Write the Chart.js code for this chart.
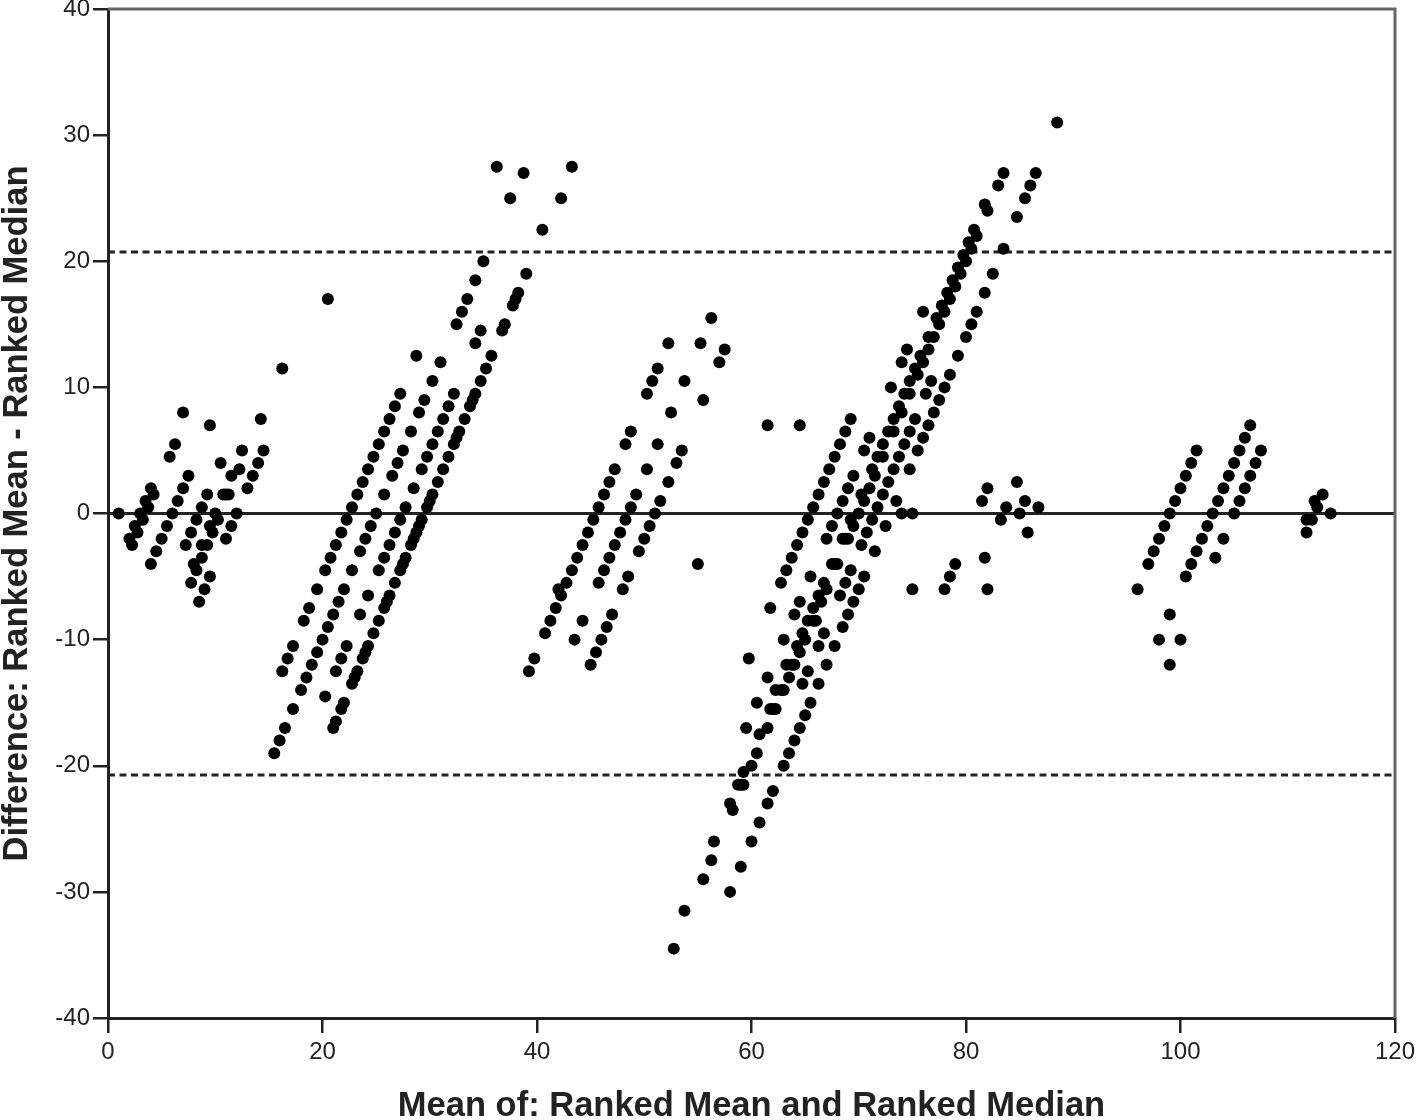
<!DOCTYPE html>
<html>
<head>
<meta charset="utf-8">
<style>
  html, body { margin: 0; padding: 0; background: #fff; }
  #wrap { width: 1416px; height: 1120px; }
</style>
<script src="https://cdn.jsdelivr.net/npm/chart.js@4"></script>
</head>
<body>
<div id="wrap"><canvas id="blandAltman" width="1416" height="1120"></canvas></div>
<script>
// [mean, difference], one list per cluster
const clusterLow = [[1,0],[4,2],[4.25,1.5],[3.5,1],[3.75,.5],[3,0],[3.25,-.5],[2.5,-1],[2.75,-1.5],[2,-2],[2.25,-2.5],
  [4,-4],[4.5,-3],[5,-2],[5.5,-1],[6,0],[6.5,1],[7,2],[7.5,3],[5.75,4.5],[6.25,5.5],[7,8],[9.5,7],[10.5,4],
  [9.25,1.5],[8.75,.5],[8.25,-.5],[7.75,-1.5],[7.25,-2.5],[10,0],[10.25,-.5],[9.5,-1],[9.75,-1.5],[9.25,-2.5],[8.75,-2.5],
  [8.75,-3.5],[8,-4],[8.25,-4.5],[9.5,-5],[9,-6],[8.5,-7],[7.75,-5.5],[10.75,1.5],[11,1.5],[11.25,1.5],[11.5,3],[12.25,3.5],[12.5,5],
  [12,0],[11.5,-1],[11,-2],[13,2],[13.5,3],[14,4],[14.5,5],[14.25,7.5],[16.25,11.5]];

const clusterSecondLower = [[15.5,-19],[16,-18],[16.5,-17],[17.25,-15.5],[16.25,-12.5],[16.75,-11.5],[17.25,-10.5],
  [18.25,-8.5],[18.75,-7.5],[19.5,-6],[20.25,-4.5],[20.75,-3.5],[21.25,-2.5],[21.75,-1.5],[22.25,-.5],
  [18,-14],[18.5,-13],[19,-12],[19.5,-11],[20,-10],[20.5,-9],[21,-8],[21.5,-7],[22,-6],[22.75,-4.5],[23.5,-3],[24,-2],[24.5,-1],[25,0],
  [20.25,-14.5],[21,-17],[21.25,-16.5],[21.75,-15.5],[22,-15],[21.25,-12.5],[21.75,-11.5],[22.25,-10.5],[23.5,-8],[24.25,-6.5],
  [25.25,-4.5],[25.75,-3.5],[26.25,-2.5],[26.75,-1.5],[27.25,-.5],
  [22.75,-13.5],[23,-13],[23.25,-12.5],[23.75,-11.5],[24,-11],[24.25,-10.5],[24.75,-9.5],[25.25,-8.5],[25.75,-7.5],[26,-7],[26.25,-6.5],
  [26.75,-5.5],[27.25,-4.5],[27.5,-4],[27.75,-3.5],[28.25,-2.5],[28.5,-2],[28.75,-1.5],[29,-1],[29.25,-.5]];

const clusterSecondUpper = [[20.5,17],[22.75,.5],[23.25,1.5],[23.75,2.5],[24.25,3.5],[24.75,4.5],[25.25,5.5],[25.75,6.5],[26.25,7.5],[26.75,8.5],[27.25,9.5],
  [25.75,1.5],[26.5,3],[27,4],[27.5,5],[28.25,6.5],[29,8],[29.5,9],[30.25,10.5],[31,12],[28.75,12.5],
  [27.75,.5],[28.5,2],[29.25,3.5],[29.75,4.5],[30.25,5.5],[30.75,6.5],[31.25,7.5],[31.75,8.5],[32.25,9.5],
  [29.75,.5],[30,1],[30.25,1.5],[30.75,2.5],[31.25,3.5],[31.75,4.5],[32.25,5.5],[32.5,6],[32.75,6.5],[33.25,7.5],[33.75,8.5],[34,9],[34.25,9.5],
  [34.75,10.5],[35.25,11.5],[35.75,12.5],[34.25,13.5],[34.75,14.5],[32.5,15],[33,16],[33.5,17],[34.25,18.5],[35,20],
  [36.75,14.5],[37,15],[37.75,16.5],[38,17],[38.25,17.5],[39,19],[40.5,22.5],[36.25,27.5],[37.5,25],[38.75,27],[42.25,25],[43.25,27.5]];

const clusterThird = [[39.25,-12.5],[39.75,-11.5],[40.75,-9.5],[41.25,-8.5],[41.75,-7.5],[42.25,-6.5],[42,-6],[42.75,-5.5],[43.25,-4.5],[43.75,-3.5],
  [44.25,-2.5],[44.75,-1.5],[45.25,-.5],[45.75,.5],[46.25,1.5],[46.75,2.5],[47.25,3.5],[43.5,-10],[44.25,-8.5],
  [45,-12],[45.5,-11],[46,-10],[46.5,-9],[47,-8],[45.75,-5.5],[46.25,-4.5],[46.75,-3.5],[47.25,-2.5],[47.75,-1.5],[48.25,-.5],[48.75,.5],[49.25,1.5],
  [48,-6],[48.5,-5],[48.25,5.5],[48.75,6.5],[50.25,3.5],[51.25,5.5],[49.5,-3],[50,-2],[50.5,-1],[51,0],[51.5,1],[52.25,2.5],[53,4],[53.5,5],
  [52.5,8],[50.25,9.5],[50.75,10.5],[51.25,11.5],[53.75,10.5],[55.5,9],[52.25,13.5],[55.25,13.5],[57,12],[57.5,13],[56.25,15.5],[55,-4]];

const clusterFourthBottom = [[52.75,-34.5],[53.75,-31.5],[55.5,-29],[56.25,-27.5],[56.5,-26],[58,-30],[59,-28],[60,-26],[60.75,-24.5],[61.5,-23],[62,-22],
  [58,-23],[58.25,-23.5],[58.75,-21.5],[59,-21.5],[59.25,-21.5],[59.25,-20.5],[60,-20],[60.5,-19],[63,-20],[63.5,-19],[64,-18],[64.5,-17],[65,-16],[65.5,-15],
  [59.5,-17],[60.75,-17.5],[61.5,-17],[60.5,-15],[61.75,-15.5],[62,-15.5],[62.25,-15.5],[59.75,-11.5],[61.5,-13],
  [62.25,-14],[62.75,-14],[63,-14],[63.5,-13],[64.75,-13.5],[66.25,-13.5],[65.25,-12.5],[67,-12],[63.25,-12],[63.75,-12],[64,-12],[64.5,-11],[64.25,-10.5],[63,-10],
  [66.25,-10.5],[67.75,-10.5],[65,-10],[64.75,-9.5],[66.75,-9.5],[68.5,-9]];

const clusterFourthMiddle = [[65.25,-8.5],[65.75,-8.5],[66,-8.5],[64,-8],[69,-8],[61.75,-7.5],[64.5,-7],[65.75,-7.5],[66.5,-7],[66.25,-6.5],[69.5,-7],[68.25,-6.5],[67,-6],
  [66.75,-5.5],[70,-6],[65.5,-5],[68.75,-5.5],[70.5,-5],[69.25,-4.5],[67.5,-4],[67.75,-4],[68,-4],[62.75,-5.5],[63.25,-4.5],[63.75,-3.5],[64.25,-2.5],[64.75,-1.5],
  [65.25,-.5],[65.75,.5],[66.25,1.5],[66.75,2.5],[67.25,3.5],[67.75,4.5],[68.25,5.5],[68.75,6.5],[69.25,7.5],[61.5,7],[64.5,7],
  [68,0],[68.5,1],[69,2],[69.5,3],[67.5,-1],[67,-2],[70.25,-2.5],[71.5,-3],[70.75,-1.5],[72.5,-1],[68.5,-2],[68.75,-2],[69,-2],[69.5,-1],[69.25,-.5],
  [70,0],[71.25,-.5],[71.75,.5],[70.5,1],[70.25,1.5],[71,2],[72.25,1.5],[72.75,2.5],[71.5,3],[71.25,3.5],[73.5,1],[74,0],[75,0],[73.25,3.5],[74.75,3.5],
  [71.75,4.5],[72.25,4.5],[73.75,4.5],[75.5,5],[70.5,5],[71,6],[72.25,5.5],[74.25,5.5],[76,6],[74.75,6.5],[76.5,7],[72.75,6.5],[73.25,6.5]];

const clusterFourthUpper = [[73.25,7.5],[75.25,7.5],[77,8],[74,8],[73.75,8.5],[77.5,9],[76.25,9.5],[74.25,9.5],[74.75,9.5],[78,10],[73,10],[76.75,10.5],[74.75,10.5],
  [78.5,11],[75.5,11],[75.25,11.5],[74,12],[76,12],[79.25,12.5],[75.75,12.5],[74.5,13],[76.5,13],[76.5,14],[77,14],[80,14],[77.5,15],[77.25,15.5],[80.5,15],
  [76,16],[78,16],[81,16],[77.75,16.5],[78.25,17.5],[78.5,17],[81.75,17.5],[78.75,18.5],[79,18],[79.25,19.5],[79.5,19],[82.5,19],[79.75,20.5],[80,20],[80.25,21.5],[80.5,21],[83.5,21],
  [80.75,22.5],[81,22],[81.75,24.5],[82,24],[84.75,23.5],[85.5,25],[83,26],[86,26],[83.5,27],[86.5,27],[88.5,31]];

const clusterFourthRight = [[81.5,1],[82,2],[81.75,-3.5],[83.25,-.5],[83.75,.5],[84.75,2.5],[85,0],[85.5,1],[86.75,.5],[85.75,-1.5],[82,-6],[75,-6],[78,-6],[78.5,-5],[79,-4]];

const clusterFifth = [[96,-6],[97,-4],[97.5,-3],[98,-2],[98.5,-1],[99,0],[99.5,1],[100,2],[100.5,3],[101,4],[101.5,5],[99,-8],[98,-10],[100,-10],[99,-12],
  [100.5,-5],[101,-4],[101.5,-3],[102,-2],[102.5,-1],[103,0],[103.5,1],[104,2],[104.5,3],[105,4],[105.5,5],[106,6],[106.5,7],
  [103.25,-3.5],[104,-2],[105,0],[105.5,1],[106,2],[106.5,3],[107,4],[107.5,5],
  [111.75,-1.5],[111.75,-.5],[112.25,-.5],[112.75,.5],[112.5,1],[113.25,1.5],[114,0]];

const meanLine = [0];
const upperLimit = [20.74];
const lowerLimit = [-20.74];
const xRange = [0, 120];

const allPoints = [clusterLow, clusterSecondLower, clusterSecondUpper, clusterThird, clusterFourthBottom,
  clusterFourthMiddle, clusterFourthUpper, clusterFourthRight, clusterFifth].flat().map(p => ({ x: p[0], y: p[1] }));

// horizontal reference line across the whole x range
function refLine(value, dash) {
  return {
    type: 'line',
    data: xRange.map(x => ({ x: x, y: value })),
    borderColor: '#222',
    borderWidth: 3,
    borderDash: dash,
    pointRadius: 0,
    order: 2
  };
}

// top and right edges of the frame are lighter than the axes
const frameEdges = {
  id: 'frameEdges',
  afterDraw(chart) {
    const a = chart.chartArea, c = chart.ctx;
    c.save();
    c.strokeStyle = '#666';
    c.lineWidth = 3;
    c.beginPath();
    c.moveTo(a.left, a.top);
    c.lineTo(a.right, a.top);
    c.lineTo(a.right, a.bottom);
    c.stroke();
    c.restore();
  }
};

const axisFont = { family: '"Liberation Sans"', size: 24 };
const titleFont = { family: '"Liberation Sans"', size: 34.5, weight: 'bold', lineHeight: 1 };

new Chart(document.getElementById('blandAltman').getContext('2d'), {
  type: 'scatter',
  data: {
    datasets: [
      {
        data: allPoints,
        backgroundColor: '#000',
        borderColor: '#000',
        pointRadius: 6,
        pointHoverRadius: 6,
        borderWidth: 0,
        order: 1
      },
      refLine(meanLine[0], []),
      refLine(upperLimit[0], [7, 4.5]),
      refLine(lowerLimit[0], [7, 4.5])
    ]
  },
  plugins: [frameEdges],
  options: {
    responsive: false,
    animation: false,
    layout: { padding: { top: 9, right: 21, left: 0, bottom: 0 } },
    plugins: { legend: { display: false }, tooltip: { enabled: false } },
    scales: {
      x: {
        type: 'linear',
        min: 0,
        max: 120,
        ticks: { stepSize: 20, color: '#222', font: axisFont, padding: 5, maxRotation: 0 },
        grid: { drawOnChartArea: false, color: '#222', lineWidth: 2.5, tickLength: 15 },
        border: { color: '#222', width: 3 },
        title: { display: true, text: 'Mean of: Ranked Mean and Ranked Median', color: '#222', font: titleFont, padding: { top: 20, bottom: -4 } },
        afterFit(scale) { scale.height = 102; scale.paddingLeft = 0; scale.paddingRight = 0; }
      },
      y: {
        type: 'linear',
        min: -40,
        max: 40,
        ticks: { stepSize: 10, color: '#222', font: axisFont, padding: 3 },
        grid: { drawOnChartArea: false, color: '#222', lineWidth: 2.5, tickLength: 15 },
        border: { color: '#222', width: 3 },
        title: { display: true, text: 'Difference: Ranked Mean - Ranked Median', color: '#222', font: titleFont, padding: { top: 0, bottom: 0 } },
        afterFit(scale) { scale.width = 108; scale.paddingTop = 0; scale.paddingBottom = 0; }
      }
    }
  }
});
</script>
</body>
</html>
